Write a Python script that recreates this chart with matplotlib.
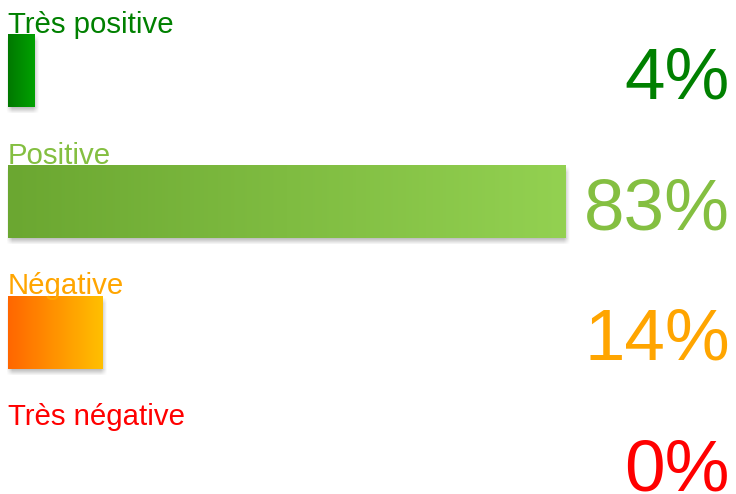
import numpy as np
import matplotlib
matplotlib.use("Agg")
import matplotlib.pyplot as plt
from matplotlib.colors import LinearSegmentedColormap

categories = ["Très positive", "Positive", "Négative", "Très négative"]
values = [4, 83, 14, 0]
pct_labels = ["4%", "83%", "14%", "0%"]

label_colors = ["#008000", "#84BF41", "#FFA500", "#FF0000"]
grad_left = ["#007800", "#6BA731", "#FF6600", "#FF0000"]
grad_right = ["#00A200", "#93D151", "#FFC000", "#FF0000"]

W, H = 736, 494
fig = plt.figure(figsize=(W / 100, H / 100), dpi=100)
ax = fig.add_axes([0, 0, 1, 1])
ax.set_axis_off()

px_x = 6.72          # pixels per percent
x0_px = 8            # pixel of zero
row_px = 130.7       # pixels per row
first_center_px = 71

bar_h = 73 / row_px
dxp = 1 / px_x       # one pixel in x data units
dyp = 1 / row_px     # one pixel in y data units

font = "Liberation Sans"

for i, (cat, v, lab) in enumerate(zip(categories, values, pct_labels)):
    top = i - bar_h / 2
    bot = i + bar_h / 2
    if v > 0:
        # soft drop shadow
        mx, my = 8, 12
        xs0, xs1 = -mx * dxp, v + mx * dxp
        ys0, ys1 = top - my * dyp, bot + my * dyp
        nx = int(round((xs1 - xs0) / dxp))
        ny = int(round((ys1 - ys0) / dyp))
        u = np.linspace(xs0, xs1, nx) / dxp
        w = np.linspace(ys0, ys1, ny) / dyp
        b = 3.0
        sx0, sx1 = 1.0, v / dxp + 1.5
        sy0, sy1 = top / dyp + 4, bot / dyp + 4
        fx = np.clip((u - sx0 + b) / (2 * b), 0, 1) * np.clip((sx1 - u + b) / (2 * b), 0, 1)
        fy = np.clip((w - sy0 + b) / (2 * b), 0, 1) * np.clip((sy1 - w + b) / (2 * b), 0, 1)
        alpha = 0.45 * np.outer(fy, fx)
        img = np.zeros((ny, nx, 4))
        img[..., :3] = 0.45
        img[..., 3] = alpha
        ax.imshow(img, extent=(xs0, xs1, ys1, ys0), aspect="auto",
                  interpolation="bilinear", zorder=1)
        # gradient bar
        cmap = LinearSegmentedColormap.from_list(f"g{i}", [grad_left[i], grad_right[i]])
        grad = np.linspace(0, 1, 256).reshape(1, -1)
        ax.imshow(grad, cmap=cmap, extent=(0, v, bot, top), aspect="auto",
                  interpolation="bilinear", zorder=2)
    # category label
    ax.text(0, top - 1.5 * dyp, cat, color=label_colors[i], fontsize=21.2,
            family=font, ha="left", va="baseline", zorder=3)
    # percentage
    ax.text(730 / W, bot - 9 * dyp, lab, color=label_colors[i], fontsize=52.5,
            family=font, ha="right", va="baseline", zorder=3,
            transform=ax.get_yaxis_transform())

ax.set_xlim(-x0_px / px_x, (W - x0_px) / px_x)
ax.set_ylim((H - first_center_px) / row_px, -first_center_px / row_px)
fig.savefig("out.png", dpi=100)
